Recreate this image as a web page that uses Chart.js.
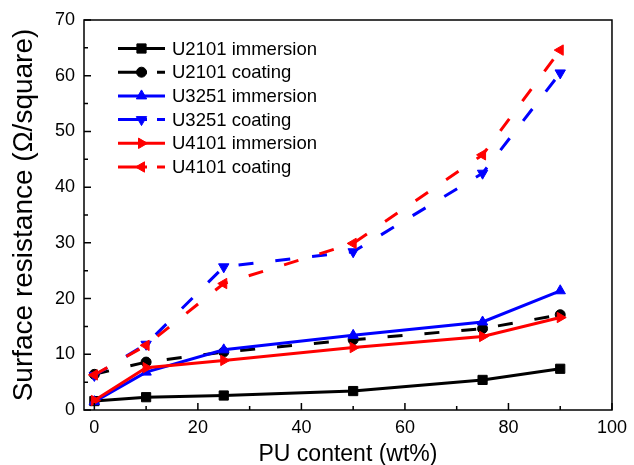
<!DOCTYPE html>
<html>
<head>
<meta charset="utf-8">
<script src="https://cdn.jsdelivr.net/npm/chart.js@4/dist/chart.umd.min.js"></script>
<style>
html,body{margin:0;padding:0;background:#fff;}
canvas{display:block;}
</style>
</head>
<body>
<canvas id="c" width="634" height="465"></canvas>
<script>
// ---- data ----
const puContent = [0, 10, 25, 50, 75, 90];
const u2101Immersion = [1.6, 2.3, 2.6, 3.4, 5.4, 7.4];
const u2101Coating   = [6.4, 8.6, 10.4, 12.6, 14.6, 17.1];
const u3251Immersion = [1.5, 6.8, 10.8, 13.4, 15.8, 21.4];
const u3251Coating   = [6.2, 11.8, 25.7, 28.4, 42.5, 60.5];
const u4101Immersion = [1.7, 7.6, 8.9, 11.2, 13.2, 16.6];
const u4101Coating   = [6.3, 11.6, 22.7, 29.9, 45.8, 64.6];
const seriesNames = ['U2101 immersion','U2101 coating','U3251 immersion','U3251 coating','U4101 immersion','U4101 coating'];
const xTickValues = [0, 20, 40, 60, 80, 100];
const yTickValues = [0, 10, 20, 30, 40, 50, 60, 70];

const seriesValues = [u2101Immersion, u2101Coating, u3251Immersion, u3251Coating, u4101Immersion, u4101Coating];
const colors = ['#000000','#000000','#0000FF','#0000FF','#FF0000','#FF0000'];
const styles = ['rect','circle','triangle','triangle','triangle','triangle'];
const rotations = [0, 0, 0, 180, 90, 270];
const radii = [6.5, 5, 6, 6, 6, 6];
const dashed = [false, true, false, true, false, true];
const DASH = [15, 22];

const datasets = seriesValues.map((vals, i) => ({
  label: seriesNames[i],
  data: puContent.map((x, j) => ({x: x, y: vals[j]})),
  borderColor: colors[i],
  backgroundColor: colors[i],
  borderWidth: 3,
  borderDash: dashed[i] ? DASH : [],
  pointStyle: styles[i],
  pointRotation: rotations[i],
  pointRadius: radii[i],
  pointBackgroundColor: colors[i],
  pointBorderColor: colors[i],
  pointBorderWidth: 1,
  tension: 0,
  fill: false,
  order: seriesValues.length - i
}));

const FONT = 'Liberation Sans';

const framePlugin = {
  id: 'frame',
  afterDraw(chart) {
    const ctx = chart.ctx;
    const a = chart.chartArea;
    const xs = chart.scales.x, ys = chart.scales.y;
    ctx.save();
    ctx.strokeStyle = '#000';
    ctx.lineWidth = 1.5;
    ctx.setLineDash([]);
    ctx.strokeRect(a.left, a.top, a.right - a.left, a.bottom - a.top);
    ctx.beginPath();
    // x ticks (inward)
    for (let v = 0; v <= 100; v += 10) {
      const px = xs.getPixelForValue(v);
      const len = (v % 20 === 0) ? 7 : 4;
      ctx.moveTo(px, a.bottom);
      ctx.lineTo(px, a.bottom - len);
    }
    // y ticks (inward)
    for (let v = 0; v <= 70; v += 5) {
      const py = ys.getPixelForValue(v);
      const len = (v % 10 === 0) ? 7 : 4;
      ctx.moveTo(a.left, py);
      ctx.lineTo(a.left + len, py);
    }
    ctx.stroke();

    // legend
    const rowY0 = 48.5, rowStep = 23.7;
    const lx0 = 118, lx1 = 165, mx = 141.5, tx = 172;
    ctx.font = '18.5px "' + FONT + '"';
    ctx.textBaseline = 'middle';
    ctx.textAlign = 'left';
    chart.data.datasets.forEach((ds, i) => {
      const y = rowY0 + i * rowStep;
      ctx.strokeStyle = ds.borderColor;
      ctx.lineWidth = 3;
      ctx.lineCap = 'butt';
      ctx.setLineDash(dashed[i] ? [29, 10, 8, 100] : []);
      ctx.beginPath();
      ctx.moveTo(lx0, y);
      ctx.lineTo(lx1, y);
      ctx.stroke();
      ctx.setLineDash([]);
      ctx.fillStyle = ds.pointBackgroundColor;
      ctx.strokeStyle = ds.pointBorderColor;
      ctx.lineWidth = 1;
      Chart.helpers.drawPoint(ctx, {
        pointStyle: ds.pointStyle, rotation: ds.pointRotation,
        radius: ds.pointRadius, borderWidth: 1
      }, mx, y);
      ctx.fillStyle = '#000';
      ctx.fillText(ds.label, tx, y + 1);
    });
    ctx.restore();
  }
};

new Chart(document.getElementById('c'), {
  type: 'line',
  data: { datasets: datasets },
  options: {
    responsive: false,
    devicePixelRatio: 1,
    animation: false,
    layout: { padding: { top: 20, right: 19, left: 0, bottom: 0 } },
    plugins: { legend: { display: false }, tooltip: { enabled: false } },
    scales: {
      x: {
        type: 'linear',
        min: -2, max: 100,
        afterBuildTicks: (s) => { s.ticks = xTickValues.map(v => ({value: v})); },
        afterFit: (s) => { s.height = 55; },
        grid: { display: false, drawTicks: false },
        border: { display: false },
        ticks: { color: '#000', font: { family: FONT, size: 18 }, padding: 7, maxRotation: 0, autoSkip: false },
        title: { display: true, text: 'PU content (wt%)', color: '#000', font: { family: FONT, size: 23 }, padding: { top: 0, bottom: -3 } }
      },
      y: {
        type: 'linear',
        min: 0, max: 70,
        afterBuildTicks: (s) => { s.ticks = yTickValues.map(v => ({value: v})); },
        afterFit: (s) => { s.width = 84; },
        grid: { display: false, drawTicks: false },
        border: { display: false },
        ticks: { color: '#000', font: { family: FONT, size: 18 }, padding: 9, autoSkip: false },
        title: { display: true, text: 'Surface resistance (Ω/square)', color: '#000', font: { family: FONT, size: 28 }, padding: { top: 7, bottom: 0 } }
      }
    }
  },
  plugins: [framePlugin]
});
</script>
</body>
</html>
